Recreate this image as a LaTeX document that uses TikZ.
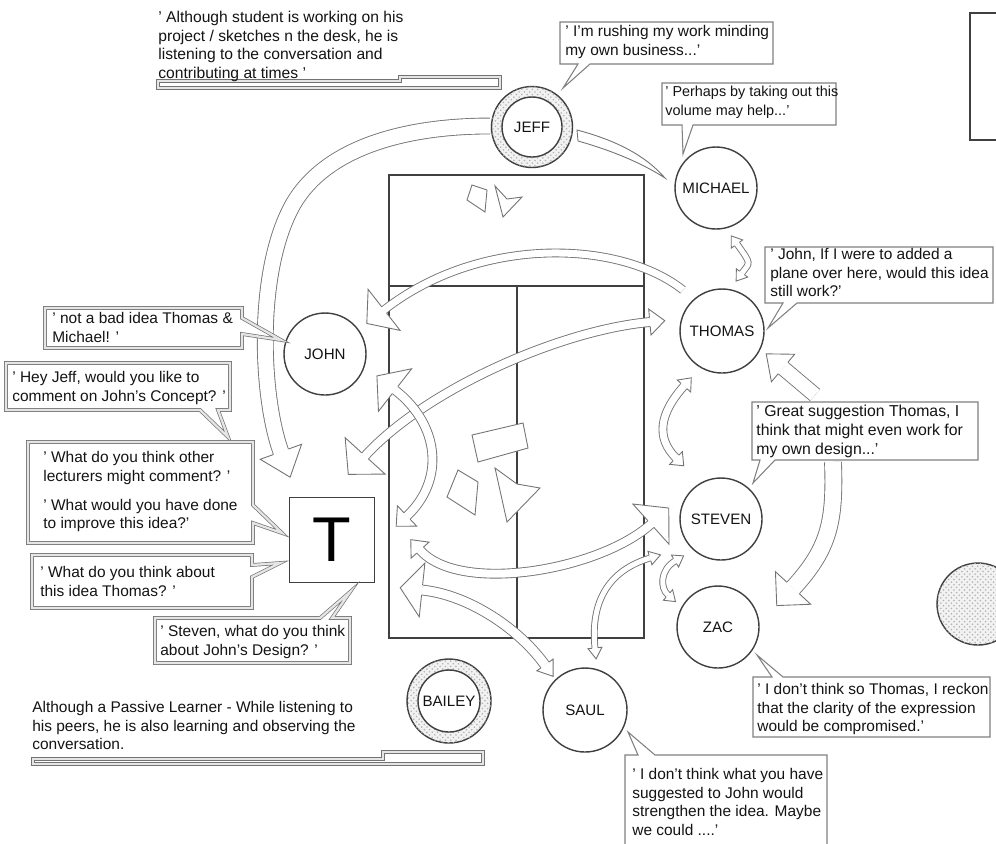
\documentclass[tikz,border=0pt]{standalone}
\usepackage{fontspec}
\setmainfont{Liberation Sans}
\usetikzlibrary{decorations.markings,patterns}
\definecolor{cline}{gray}{0.25}
\definecolor{aline}{gray}{0.45}
\definecolor{bline}{gray}{0.5}
\definecolor{ctext}{gray}{0.08}
\newcommand\ahead[3]{%
 \fill[white] (0,-#2) -- (#3,0) -- (0,#2) -- cycle;
 \draw[aline, line width=0.5pt, line join=miter] (0,#1) -- (0,#2) -- (#3,0) -- (0,-#2) -- (0,-#1);}
\tikzset{
 shaft/.style={draw=aline, line width=0.5pt, double=white, double distance=#1*0.02cm},
 endhead/.style n args={3}{postaction={decorate, decoration={markings, mark=at position 0.9995 with {\ahead{#1}{#2}{#3}}}}},
 starthead/.style n args={3}{postaction={decorate, decoration={markings, mark=at position 0.0005 with {\begin{scope}[xscale=-1]\ahead{#1}{#2}{#3}\end{scope}}}}},
 person/.style={circle, draw=cline, line width=0.8pt, fill=white, minimum size=1.64cm, inner sep=0pt, text=ctext, font=\fontsize{8.6}{10}\selectfont},
 txt/.style={anchor=north west, align=left, inner sep=0pt, text=ctext, font=\fontsize{8.8}{10.6}\selectfont},
 fs/.style={font=\fontsize{#1}{10.6}\selectfont},
 bubs/.style={draw=bline, line width=0.6pt, fill=white, line join=miter},
 bubd/.style={draw=black!55, line width=0.4pt, double=black!10, double distance=1.3pt, fill=white, line join=miter},
 tabline/.style={draw=cline, line width=0.75pt},
 tobj/.style={draw=black!55, line width=0.5pt, fill=white, line join=miter},
 dotfill/.style={fill=black!5, postaction={pattern=crosshatch dots, pattern color=black!30}},
}
\begin{document}
\begin{tikzpicture}[x=0.02cm,y=-0.02cm]
\useasboundingbox (0,0) rectangle (996,843);
\clip (0,0) rectangle (996,843);
\fill[white] (0,0) rectangle (996,843);

% table
\draw[tabline] (389,175) rectangle (644,638);
\draw[tabline] (389,286) -- (644,286);
\draw[tabline] (517,286) -- (517,638);
% objects on the table
\draw[tobj] (467,200) -- (472,185) -- (487,190) -- (485,212) -- cycle;
\draw[tobj] (495,186) -- (507,199) -- (522,197) -- (503,217) -- cycle;
\draw[tobj] (472,435) -- (523,423) -- (528,448) -- (478,462) -- cycle;
\draw[tobj] (447,497) -- (458,470) -- (478,482) -- (475,515) -- cycle;
\draw[tobj] (495,468) -- (517,484) -- (540,488) -- (507,522) -- cycle;

% top right frame and right dotted circle
\draw[tabline] (970,13) rectangle (1010,140);
\draw[cline, line width=0.8pt, dotfill] (978,604) circle[radius=0.82cm];

% people
\draw[cline, line width=0.8pt, dotfill] (532,127) circle[radius=0.81cm];
\node[person, minimum size=1.2cm] (jeff) at (532,127) {JEFF};
\node[person] (michael) at (716,188) {MICHAEL};
\node[person] (john) at (325,354) {JOHN};
\node[person, minimum size=1.68cm] (thomas) at (722,331) {THOMAS};
\node[person] (steven) at (721,519) {STEVEN};
\node[person] (zac) at (718,627) {ZAC};
\node[person, minimum size=1.68cm] (saul) at (585,710) {SAUL};
\draw[cline, line width=0.8pt, dotfill] (449,701) circle[radius=0.84cm];
\node[person, minimum size=1.24cm] (bailey) at (449,701) {BAILEY};
\node[draw=cline, line width=0.8pt, fill=white, minimum width=1.7cm, minimum height=1.7cm, inner sep=0pt, font=\fontsize{36}{36}\selectfont] (tutor) at (332,540) {T};

% arrow end points
\coordinate (a1s) at (490,126); \coordinate (a1e) at (281,452);
\coordinate (a2s) at (683,290); \coordinate (a2e) at (384,310);
\coordinate (a3s) at (365,456); \coordinate (a3e) at (650,322);
\coordinate (a4s) at (395,390); \coordinate (a4e) at (407,516);
\coordinate (a5s) at (420,550); \coordinate (a5e) at (651,524);
\coordinate (a6s) at (422,590); \coordinate (a6e) at (545,665);
\coordinate (a7s) at (595,648); \coordinate (a7e) at (650,558);
\coordinate (a8s) at (684,386); \coordinate (a8e) at (676,458);
\coordinate (a9s) at (737,244); \coordinate (a9e) at (742,273);
\coordinate (a10s) at (675,561); \coordinate (a10e) at (668,595);
\coordinate (a11s) at (833,462); \coordinate (a11e) at (793,588);
\coordinate (a12s) at (815,395); \coordinate (a12e) at (783,368);

% arrows
\draw[shaft=15, endhead={8}{22}{27}] (a1s) .. controls (400,126) and (320,150) .. (290,210) .. controls (255,280) and (262,400) .. (a1e);
\draw[shaft=7, endhead={4}{26}{22}] (a2s) .. controls (620,240) and (480,235) .. (a2e);
\draw[shaft=8, starthead={4.5}{27}{25}, endhead={4.5}{13}{15}] (a3s) .. controls (425,390) and (560,330) .. (a3e);
\draw[shaft=8, starthead={4.5}{27}{23}, endhead={4.5}{14}{15}] (a4s) .. controls (440,425) and (445,480) .. (a4e);
\draw[shaft=8, starthead={4.5}{12}{14}, endhead={4.5}{27}{24}] (a5s) .. controls (460,595) and (600,570) .. (a5e);
\draw[shaft=9, starthead={5}{27}{22}, endhead={5}{10}{14}] (a6s) .. controls (470,595) and (520,630) .. (a6e);
\draw[shaft=5, starthead={3}{7}{11}, endhead={3}{7}{11}] (a7s) .. controls (590,600) and (610,570) .. (a7e);
\draw[shaft=7, starthead={4}{9}{11}, endhead={4}{9}{11}] (a8s) .. controls (659,414) and (656,438) .. (a8e);
\draw[shaft=5, starthead={3}{7}{10}, endhead={3}{7}{10}] (a9s) .. controls (752,265) and (750,262) .. (a9e);
\draw[shaft=5, starthead={3}{7}{10}, endhead={3}{7}{10}] (a10s) .. controls (660,570) and (660,588) .. (a10e);
\draw[shaft=16, endhead={8.5}{24}{24}] (a11s) .. controls (835,520) and (830,548) .. (a11e);
\draw[shaft=14, endhead={7.5}{18}{22}] (a12s) -- (a12e);
% Jeff - Michael wedge
\draw[aline, line width=0.5pt, fill=white] (577,130) .. controls (615,140) and (645,155) .. (665,178) .. controls (640,162) and (610,150) .. (578,141) -- cycle;

% speech bubbles
\draw[bubd] (158,81) -- (400,81) -- (400,77) -- (500,77) -- (500,88) -- (158,88) -- cycle;
\node[txt, fs=8.9] (tjeffnote) at (158,11) {' Although student is working on his\\project / sketches n the desk, he is\\listening to the conversation and\\contributing at times '};

\draw[bubs] (560,22) -- (773,22) -- (773,64) -- (590,64) -- (563,88) -- (578,64) -- (560,64) -- cycle;
\node[txt] (tjeff) at (565,25) {' I'm rushing my work minding\\my own business...'};

\draw[bubs] (662,83) -- (836,83) -- (836,125) -- (693,125) -- (683,154) -- (682,125) -- (662,125) -- cycle;
\node[txt, fs=8.2] (tmichael) at (665,86) {' Perhaps by taking out this\\volume may help...'};

\draw[bubs] (765,247) -- (993,247) -- (993,303) -- (797,303) -- (768,328) -- (783,303) -- (765,303) -- cycle;
\node[txt] (tthomas) at (770,248) {' John, If I were to added a\\plane over here, would this idea\\still work?'};

\draw[bubs] (752,402) -- (978,402) -- (978,460) -- (775,460) -- (753,483) -- (760,460) -- (752,460) -- cycle;
\node[txt, fs=9] (tsteven) at (756,405) {' Great suggestion Thomas, I\\think that might even work for\\my own design...'};

\draw[bubs] (753,677) -- (772,677) -- (757,655) -- (783,677) -- (990,677) -- (990,737) -- (753,737) -- cycle;
\node[txt] (tzac) at (757,683) {' I don't think so Thomas, I reckon\\that the clarity of the expression\\would be compromised.'};

\draw[bubs] (625,755) -- (638,755) -- (628,732) -- (655,755) -- (827,755) -- (827,850) -- (625,850) -- cycle;
\node[txt] (tsaul) at (632,768) {' I don't think what you have\\suggested to John would\\strengthen the idea. Maybe\\we could ....'};

\draw[bubd] (45,308) -- (242,308) -- (242,318) -- (281,340) -- (242,334) -- (242,348) -- (45,348) -- cycle;
\node[txt] (tjohn) at (52,312) {' not a bad idea Thomas \&\\Michael! '};

\draw[bubd] (6,363) -- (230,363) -- (230,410) -- (218,410) -- (228,437) -- (200,410) -- (6,410) -- cycle;
\node[txt] (tq1) at (12,371) {' Hey Jeff, would you like to\\comment on John's Concept? '};

\draw[bubd] (28,442) -- (253,442) -- (253,505) -- (282,533) -- (253,523) -- (253,543) -- (28,543) -- cycle;
\node[txt] (tq2) at (43,451) {' What do you think other\\lecturers might comment? '\\[6pt]' What would you have done\\to improve this idea?'};

\draw[bubd] (32,555) -- (252,555) -- (252,565) -- (280,563) -- (252,577) -- (252,608) -- (32,608) -- cycle;
\node[txt] (tq3) at (40,566) {' What do you think about\\this idea Thomas? '};

\draw[bubd] (155,618) -- (320,618) -- (350,592) -- (332,618) -- (350,618) -- (350,663) -- (155,663) -- cycle;
\node[txt] (tq4) at (160,625) {' Steven, what do you think\\about John's Design? '};

\draw[bubd] (33,759) -- (383,759) -- (383,752) -- (483,752) -- (483,764) -- (33,764) -- cycle;
\node[txt] (tbailey) at (32,701) {Although a Passive Learner - While listening to\\his peers, he is also learning and observing the\\conversation.};
\end{tikzpicture}
\end{document}
